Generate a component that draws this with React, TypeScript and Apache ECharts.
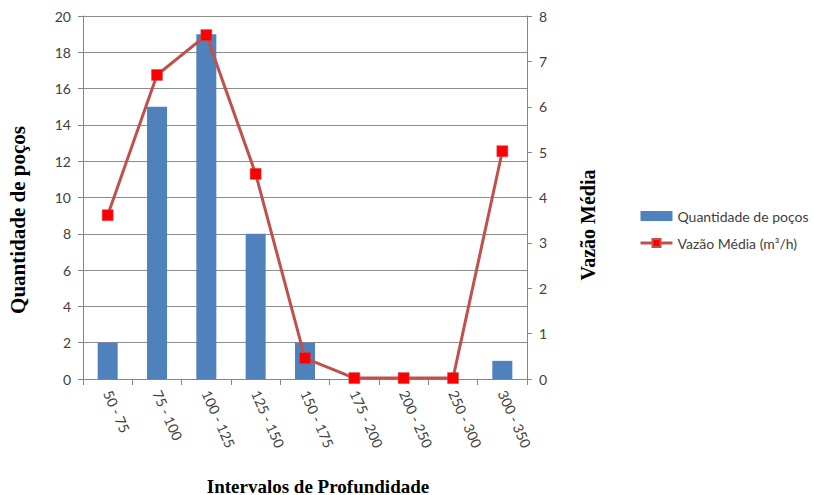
import React, { useEffect, useRef } from "react";
import * as echarts from "echarts";

const categories = ["50 - 75", "75 - 100", "100 - 125", "125 - 150", "150 - 175", "175 - 200", "200 - 250", "250 - 300", "300 - 350"];
const quantidade = [2, 15, 19, 8, 2, 0, 0, 0, 1];
const vazao = [3.61, 6.7, 7.58, 4.52, 0.46, 0.02, 0.02, 0.02, 5.02];

const xTitle = "Intervalos de Profundidade";
const yLeftTitle = "Quantidade de poços";
const yRightTitle = "Vazão Média";

const tickFont = "Lato, 'Liberation Sans', sans-serif";
const titleFont = "'Liberation Serif', 'DejaVu Serif', serif";

export default function App() {
  const ref = useRef<HTMLDivElement>(null);
  useEffect(() => {
    if (!ref.current) return;
    const chart = echarts.init(ref.current, undefined, { renderer: "svg" });
    const axisLine = { show: true, lineStyle: { color: "#868686", width: 1 } };
    const axisLabel = { color: "#404040", fontSize: 14, fontFamily: tickFont };
    const title = (text: string, x: number, y: number, size: number, rotated: boolean) => ({
      type: "text",
      x,
      y,
      rotation: rotated ? Math.PI / 2 : 0,
      style: {
        text,
        fontFamily: titleFont,
        fontWeight: "bold",
        fontSize: size,
        fill: "#000",
        align: "center",
        verticalAlign: "middle",
      },
    });
    chart.setOption({
      animation: false,
      grid: { left: 83, right: 287, top: 16, bottom: 116, outerBoundsMode: "none", containLabel: false },
      graphic: [
        title(xTitle, 318, 486, 19, false),
        title(yLeftTitle, 18, 220, 21, true),
        title(yRightTitle, 588, 225, 20, true),
      ],
      legend: {
        orient: "vertical",
        left: 634,
        top: 204,
        itemGap: 13,
        itemWidth: 32,
        itemHeight: 10,
        textStyle: { color: "#404040", fontSize: 14, fontFamily: tickFont },
        data: [
          { name: "Quantidade de poços", icon: "rect", itemStyle: { color: "#4F81BD" } },
          { name: "Vazão Média (m³/h)", lineStyle: { width: 3, color: "#C0504D" } },
        ],
      },
      xAxis: {
        type: "category",
        data: categories,
        axisLine,
        axisTick: { show: true, length: 6, lineStyle: { color: "#868686" } },
        axisLabel: { ...axisLabel, rotate: -66, margin: 12, interval: 0 },
      },
      yAxis: [
        {
          type: "value",
          min: 0,
          max: 20,
          interval: 2,
          axisLine,
          axisTick: { show: true, length: 5, lineStyle: { color: "#868686" } },
          axisLabel: { ...axisLabel, margin: 12 },
          splitLine: { show: true, lineStyle: { color: "#8c8c8c", width: 1 } },
        },
        {
          type: "value",
          min: 0,
          max: 8,
          interval: 1,
          position: "right",
          axisLine,
          axisTick: { show: true, length: 5, lineStyle: { color: "#868686" } },
          axisLabel: { ...axisLabel, margin: 12 },
          splitLine: { show: false },
        },
      ],
      series: [
        {
          name: "Quantidade de poços",
          type: "bar",
          data: quantidade,
          barWidth: 20,
          itemStyle: { color: "#4F81BD" },
          yAxisIndex: 0,
        },
        {
          name: "Vazão Média (m³/h)",
          type: "line",
          data: vazao,
          yAxisIndex: 1,
          symbol: "rect",
          symbolSize: 11,
          lineStyle: { color: "#C0504D", width: 3 },
          itemStyle: { color: "#FF0000", borderColor: "#C0504D", borderWidth: 0.5 },
          z: 3,
        },
      ],
    });
    return () => chart.dispose();
  }, []);
  return (
    <div
      ref={ref}
      style={{ position: "fixed", left: 0, top: 0, width: 814, height: 495, background: "#fff" }}
    />
  );
}
